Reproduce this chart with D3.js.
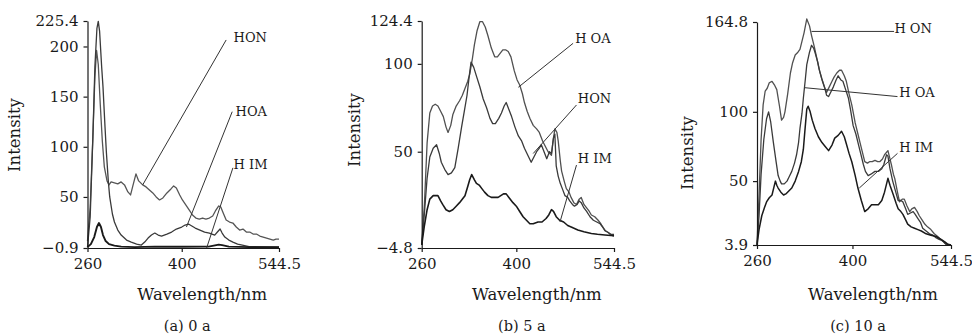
<!DOCTYPE html>
<html>
<head>
<meta charset="utf-8">
<script src="https://cdn.jsdelivr.net/npm/d3@7"></script>
<style>
  body { margin: 0; background: #fff; }
  svg text { font-family: "DejaVu Serif", serif; fill: #1a1a1a; }
</style>
</head>
<body>
<svg id="chart" width="972" height="334"></svg>
<script>
// wavelength range shared by all panels
const xDomain = [260, 544.5];
const xTicks = [260, 400, 544.5];

// (a) 0 a  -- [wavelength, intensity]
const honA = [[260,6],[264,40],[268,110],[271,170],[273.5,196],[276,182],[279,142],[282,106],[285,80],[289,66],[292,62],[295,65],[300,64],[305,63],[310,65],[315,62],[320,55],[324,52],[327,60],[332,73],[336,66],[342,62],[347,60],[352,57],[357,54],[362,50],[367,47],[372,49],[378,54],[384,58],[388,61],[392,59],[397,52],[401,47],[406,42],[411,37],[416,32],[421,29],[426,28],[431,29],[436,28],[441,29],[446,31],[450,36],[455,41],[458,40],[461,35],[466,27],[471,25],[476,24],[481,20],[486,17],[491,18],[496,15],[501,15],[506,13],[511,13],[516,11],[521,10],[526,9],[531,8],[536,7],[540,8],[544.5,8]];
const hoaA = [[260,0],[264,30],[268,110],[271,180],[274,218],[276,225],[278,215],[281,180],[283,160],[286,120],[288,95],[291,65],[293,50],[297,33],[300,25],[305,17],[310,12],[318,7],[325,5],[333,3],[340,2],[345,5],[350,9],[355,12],[360,14],[365,12],[370,11],[378,13],[385,15],[392,18],[400,20],[405,22],[410,23],[415,21],[420,19],[427,17],[434,15],[441,14],[449,12],[453,15],[457,18],[460,14],[464,10],[470,7],[476,5],[483,3],[490,2],[500,0.5],[544.5,0]];
const himA = [[260,0],[265,3],[270,10],[274,20],[277,24],[280,20],[283,12],[287,6],[292,3],[300,1.5],[310,0.5],[330,0],[360,0.5],[400,0.3],[440,0.5],[455,2.5],[460,2],[470,0.5],[500,0],[544.5,0]];

// (b) 5 a
const hoaB = [[260,-3],[264,20],[268,55],[272,72],[276,76],[280,77],[284,76],[288,73],[292,70],[296,64],[299,61],[303,65],[306,71],[311,76],[316,79],[320,82],[324,86],[328,90],[331,94],[335,103],[338,111],[342,119],[346,124],[350,124],[354,121],[358,116],[363,109],[368,104],[372,104],[376,106],[380,108],[384,108],[388,107],[392,104],[397,96],[401,91],[405,88],[409,83],[412,78],[416,73],[420,69],[425,65],[430,63],[434,61],[439,56],[443,53],[447,50],[452,48],[454,55],[457,63],[460,61],[462,56],[465,45],[467,39],[471,33],[474,29],[478,27],[481,24],[485,21],[489,20],[493,23],[496,24],[500,20],[504,18],[508,16],[511,14],[516,13],[521,11],[525,9],[528,7],[532,5],[536,4],[540,2.5],[544.5,2]];
const honB = [[260,-3],[264,15],[268,35],[272,47],[277,52],[282,54],[286,49],[289,44],[294,40],[299,37],[304,38],[309,41],[314,52],[319,64],[323,73],[327,82],[330,92],[333,101],[337,98],[341,93],[346,87],[351,80],[356,75],[361,69],[365,66],[369,66],[374,69],[378,72],[382,76],[385,78],[389,74],[393,70],[398,64],[403,59],[408,56],[412,52],[417,48],[422,44],[426,47],[430,50],[434,52],[437,54],[441,50],[445,46],[449,50],[452,49],[455,58],[457,60],[459,42],[462,36],[465,32],[469,28],[472,25],[476,24],[479,22],[483,20],[486,19],[490,20],[493,22],[496,21],[500,18],[504,16],[509,13],[514,11],[519,10],[524,9],[528,7],[531,5],[536,4],[540,3],[544.5,3]];
const himB = [[260,-3],[264,8],[268,17],[272,23],[277,25],[281,25],[284,25],[288,22],[291,20],[296,17],[301,16],[306,17],[311,19],[316,21],[320,23],[324,25],[328,30],[331,34],[334,37],[338,34],[341,32],[345,31],[349,29],[353,27],[358,25],[363,24],[368,24],[373,24],[377,25],[381,26],[385,26],[389,24],[395,21],[400,19],[405,16],[410,13],[415,11],[420,9],[425,9],[432,10],[438,10],[444,12],[448,14],[452,17],[455,16],[459,13],[464,11],[470,10],[476,8],[482,7],[491,5.5],[500,4.5],[511,3.5],[520,3],[531,2.6],[544.5,2.2]];

// (c) 10 a
const honC = [[260,4],[263,40],[266,80],[269,105],[272,115],[275,117],[278,121],[282,122],[286,119],[289,116],[293,104],[296,94],[299,96],[301,100],[305,113],[309,128],[312,135],[316,141],[320,143],[323,145],[326,151],[329,157],[333,167],[337,162],[340,155],[344,147],[348,138],[351,131],[355,124],[359,118],[362,114],[366,118],[370,122],[373,125],[377,128],[381,130],[384,130],[388,126],[391,122],[395,113],[399,105],[404,92],[408,84],[411,78],[415,70],[418,64],[422,63],[425,64],[429,64],[433,65],[437,64],[440,64],[444,66],[447,69],[452,72],[454,68],[457,62],[460,55],[462,52],[466,42],[469,35],[473,37],[476,37],[480,32],[484,28],[487,30],[491,31],[495,28],[498,25],[502,22],[506,19],[510,17],[515,15],[520,12],[525,10],[529,8],[532,7],[536,5],[540,4],[544.5,3.9]];
const hoaC = [[260,4],[263,25],[266,55],[270,80],[274,95],[277,100],[280,93],[284,78],[288,64],[291,54],[294,50],[296,48],[300,48],[304,50],[307,53],[311,57],[315,63],[318,69],[321,78],[323,88],[326,99],[328,110],[331,124],[333,134],[337,143],[340,148],[343,146],[345,143],[349,136],[352,129],[356,122],[360,116],[362,112],[365,111],[369,115],[372,118],[376,123],[379,126],[383,123],[386,122],[390,116],[394,110],[397,102],[401,90],[405,84],[408,78],[412,70],[416,62],[419,57],[423,54],[427,55],[433,57],[438,57],[443,59],[446,62],[450,69],[452,68],[455,59],[459,50],[463,43],[467,36],[471,36],[474,35],[478,30],[481,26],[485,27],[489,28],[492,26],[496,23],[500,20],[503,16],[508,14],[513,12],[518,11],[523,9],[527,8],[530,7.5],[534,6],[537,4.4],[544.5,3.9]];
const himC = [[260,4],[263,15],[267,25],[271,31],[274,35],[278,38],[282,40],[285,46],[287,50],[289,47],[291,45],[295,42],[299,40],[303,41],[307,43],[311,45],[316,50],[321,57],[325,64],[328,73],[330,85],[333,102],[335,104],[338,100],[341,94],[345,88],[350,82],[355,78],[360,75],[365,72],[370,76],[374,81],[379,83],[384,86],[388,82],[391,77],[395,70],[399,64],[404,54],[408,45],[413,36],[418,28],[423,30],[428,33],[433,33],[438,33],[443,36],[447,42],[450,48],[452,52],[455,47],[460,40],[464,34],[467,30],[471,28],[474,26],[478,22],[481,19],[486,17],[491,16],[496,15],[501,14],[508,12],[515,11],[523,10],[530,8],[536,6],[540,4.4],[544.5,3.9]];

// y axis ticks per panel
const yTicksA = [-0.9, 50, 100, 150, 200, 225.4];
const yTicksB = [-4.8, 50, 100, 124.4];
const yTicksC = [3.9, 50, 100, 164.8];

// label text, label position, leader line (all in data units)
const notesA = [
  { text: "HON",  at: [477, 204], from: [466, 206.5], to: [342, 62] },
  { text: "HOA",  at: [480, 131], from: [475, 135],   to: [407, 20] },
  { text: "H IM", at: [477, 78],  from: [476, 79],    to: [437, -0.9] }
];
const notesB = [
  { text: "H OA", at: [487, 112], from: [484, 111.7], to: [403, 86.7] },
  { text: "HON",  at: [491, 78],  from: [489, 76.6],  to: [425, 49] },
  { text: "H IM", at: [491, 43.5], from: [489, 42.4], to: [464.6, 10] }
];
const notesC = [
  { text: "H ON", at: [461.5, 157], from: [461, 158], to: [340, 158] },
  { text: "H OA", at: [468.6, 111], from: [466, 111], to: [330, 117.4] },
  { text: "H IM", at: [468.6, 71],  from: [466, 70],  to: [410, 45] }
];

const panels = [
  { left: 87.5, right: 279, top: 21, bottom: 248, yDomain: [-0.9, 225.4], yTicks: yTicksA,
    series: [[honA, "#555", 1.3], [hoaA, "#3a3a3a", 1.3], [himA, "#1a1a1a", 1.9]], notes: notesA,
    ylabX: 15, ylabY: 135, caption: "(a) 0 a" },
  { left: 421.7, right: 614, top: 21, bottom: 248, yDomain: [-4.8, 124.4], yTicks: yTicksB,
    series: [[hoaB, "#505050", 1.3], [honB, "#3a3a3a", 1.3], [himB, "#1a1a1a", 1.6]], notes: notesB,
    ylabX: 355, ylabY: 130, caption: "(b) 5 a" },
  { left: 757, right: 951, top: 22, bottom: 245, yDomain: [3.9, 164.8], yTicks: yTicksC,
    series: [[honC, "#505050", 1.3], [hoaC, "#3a3a3a", 1.3], [himC, "#1a1a1a", 1.5]], notes: notesC,
    ylabX: 688, ylabY: 153, caption: "(c) 10 a" }
];

const svg = d3.select("#chart");

function drawPanel(p) {
  const x = d3.scaleLinear().domain(xDomain).range([p.left, p.right]);
  const y = d3.scaleLinear().domain(p.yDomain).range([p.bottom, p.top]);
  const g = svg.append("g");

  // curves
  p.series.forEach(([data, color, width]) => {
    g.append("path")
      .datum(data)
      .attr("fill", "none")
      .attr("stroke", color)
      .attr("stroke-width", width)
      .attr("stroke-linejoin", "round")
      .attr("d", d3.line().x(d => x(d[0])).y(d => y(d[1])));
  });

  // axes
  const xAxis = g.append("g")
    .attr("transform", `translate(0,${p.bottom})`)
    .call(d3.axisBottom(x).tickValues(xTicks).tickFormat(d3.format("")).tickSize(4).tickSizeOuter(0).tickPadding(6));
  const yAxis = g.append("g")
    .attr("transform", `translate(${p.left},0)`)
    .call(d3.axisLeft(y).tickValues(p.yTicks).tickFormat(d => d < 0 ? "\u2212" + Math.abs(d) : d).tickSize(4).tickSizeOuter(0).tickPadding(5));
  [xAxis, yAxis].forEach(a => {
    a.selectAll("path, line").attr("stroke", "#1a1a1a").attr("stroke-width", 1.2);
    a.selectAll("text").attr("font-family", "DejaVu Serif").attr("font-size", 15).attr("fill", "#1a1a1a");
  });

  // labels with leader lines
  p.notes.forEach(n => {
    g.append("line")
      .attr("x1", x(n.from[0])).attr("y1", y(n.from[1]))
      .attr("x2", x(n.to[0])).attr("y2", y(n.to[1]))
      .attr("stroke", "#333").attr("stroke-width", 1);
    g.append("text")
      .attr("x", x(n.at[0])).attr("y", y(n.at[1]))
      .attr("font-size", 13)
      .text(n.text);
  });

  // axis titles
  g.append("text")
    .attr("transform", `translate(${p.ylabX},${p.ylabY}) rotate(-90)`)
    .attr("text-anchor", "middle")
    .attr("dominant-baseline", "middle")
    .attr("font-size", 16.5)
    .text("Intensity");
  g.append("text")
    .attr("x", (p.left + p.right) / 2 + 19)
    .attr("y", 295)
    .attr("text-anchor", "middle")
    .attr("dominant-baseline", "middle")
    .attr("font-size", 16.5)
    .text("Wavelength/nm");
  g.append("text")
    .attr("x", (p.left + p.right) / 2 + 4)
    .attr("y", 331)
    .attr("text-anchor", "middle")
    .attr("font-size", 14.5)
    .text(p.caption);
}

panels.forEach(drawPanel);
</script>
</body>
</html>
